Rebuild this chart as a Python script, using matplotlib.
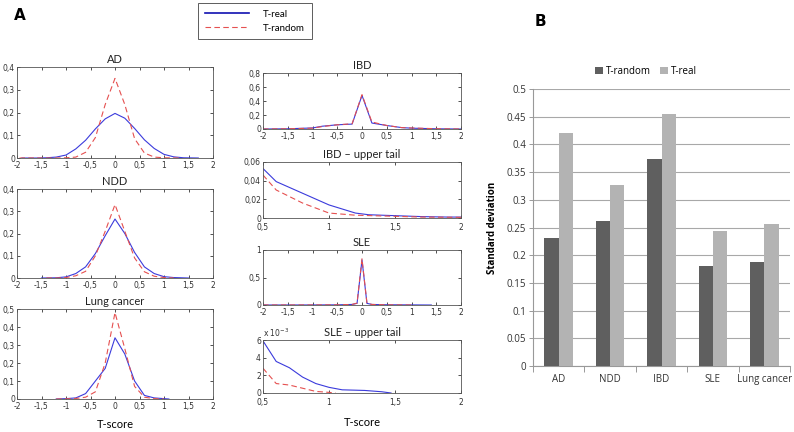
import matplotlib
matplotlib.use("Agg")
import matplotlib.pyplot as plt
from matplotlib.ticker import FuncFormatter, FixedLocator

# ---------------- data ----------------
ad_real_x = [-1.9, -1.6, -1.4, -1.2, -1.0, -0.8, -0.6, -0.4, -0.2, 0, 0.2, 0.4, 0.6, 0.8, 1.0, 1.2, 1.4, 1.7]
ad_real_y = [0, 0, 0.001, 0.004, 0.013, 0.04, 0.078, 0.128, 0.172, 0.196, 0.175, 0.13, 0.08, 0.042, 0.016, 0.005, 0.001, 0]
ad_rand_x = [-1.95, -1.6, -1.4, -1.2, -1.0, -0.8, -0.6, -0.4, -0.2, 0, 0.2, 0.4, 0.6, 0.8, 1.0, 1.3]
ad_rand_y = [0, 0, 0, 0, 0.001, 0.004, 0.025, 0.09, 0.235, 0.35, 0.235, 0.085, 0.022, 0.004, 0.001, 0]

ndd_real_x = [-1.5, -1.2, -1.0, -0.8, -0.6, -0.4, -0.2, 0, 0.2, 0.4, 0.6, 0.8, 1.0, 1.2, 1.5]
ndd_real_y = [0, 0.001, 0.005, 0.02, 0.05, 0.11, 0.19, 0.265, 0.2, 0.115, 0.05, 0.02, 0.006, 0.002, 0]
ndd_rand_x = [-1.4, -1.2, -1.0, -0.8, -0.6, -0.4, -0.2, 0, 0.2, 0.4, 0.6, 0.8, 1.0, 1.2]
ndd_rand_y = [0, 0, 0.002, 0.01, 0.03, 0.1, 0.21, 0.33, 0.21, 0.09, 0.028, 0.008, 0.002, 0]

lung_real_x = [-1.2, -1.0, -0.8, -0.6, -0.4, -0.2, 0, 0.2, 0.4, 0.6, 0.8, 1.0, 1.1]
lung_real_y = [0, 0.002, 0.006, 0.03, 0.1, 0.17, 0.34, 0.25, 0.1, 0.02, 0.006, 0.002, 0]
lung_rand_x = [-1.2, -1.0, -0.8, -0.6, -0.4, -0.2, 0, 0.2, 0.4, 0.6, 0.8, 1.0]
lung_rand_y = [0, 0.001, 0.003, 0.01, 0.04, 0.2, 0.48, 0.28, 0.07, 0.01, 0.002, 0]

ibd_real_x = [-2.0, -1.5, -1.0, -0.8, -0.5, -0.2, 0, 0.2, 0.5, 0.8, 1.0, 1.5, 2.0]
ibd_real_y = [0, 0.003, 0.015, 0.04, 0.06, 0.07, 0.48, 0.085, 0.05, 0.02, 0.012, 0.003, 0]
ibd_rand_x = [-2.0, -1.5, -1.0, -0.8, -0.5, -0.2, 0, 0.2, 0.5, 0.8, 1.0, 1.5, 2.0]
ibd_rand_y = [0, 0.003, 0.012, 0.035, 0.06, 0.075, 0.49, 0.1, 0.05, 0.02, 0.015, 0.004, 0]

ibdt_real_x = [0.5, 0.6, 0.8, 1.0, 1.2, 1.3, 1.5, 1.7, 1.9, 2.0]
ibdt_real_y = [0.053, 0.039, 0.0265, 0.014, 0.0053, 0.0035, 0.0025, 0.0015, 0.001, 0.001]
ibdt_rand_x = [0.5, 0.6, 0.8, 1.0, 1.2, 1.5, 1.7, 2.0]
ibdt_rand_y = [0.046, 0.030, 0.016, 0.0053, 0.003, 0.0018, 0.001, 0.0007]

sle_real_x = [-2.0, -1.0, -0.5, -0.2, -0.1, 0, 0.1, 0.2, 0.5, 1.0, 1.4]
sle_real_y = [0, 0.001, 0.003, 0.01, 0.03, 0.82, 0.03, 0.01, 0.004, 0.002, 0]
sle_rand_x = [-2.0, -1.0, -0.5, -0.2, -0.1, 0, 0.1, 0.2, 0.5, 1.0]
sle_rand_y = [0, 0.001, 0.003, 0.01, 0.035, 0.84, 0.035, 0.01, 0.003, 0]

slet_real_x = [0.5, 0.6, 0.7, 0.8, 0.9, 1.0, 1.1, 1.27, 1.4, 1.47]
slet_real_y = [5.9e-3, 3.57e-3, 2.86e-3, 1.8e-3, 1.07e-3, 0.64e-3, 0.36e-3, 0.29e-3, 0.14e-3, 0]
slet_rand_x = [0.5, 0.6, 0.7, 0.8, 0.9, 1.0, 1.05]
slet_rand_y = [2.8e-3, 1.07e-3, 0.9e-3, 0.54e-3, 0.18e-3, 0.07e-3, 0]

categories = ["AD", "NDD", "IBD", "SLE", "Lung cancer"]
sd_random = [0.231, 0.261, 0.374, 0.180, 0.188]
sd_real = [0.420, 0.327, 0.454, 0.243, 0.257]

# ---------------- figure ----------------
W, H = 794, 432
fig = plt.figure(figsize=(W / 100, H / 100), dpi=100)
fig.patch.set_facecolor("white")

def ax_px(l, t, r, b):
    return fig.add_axes([l / W, 1 - b / H, (r - l) / W, (b - t) / H])

BLUE = "#3b3bdc"
RED = "#e55050"
TITLE_FONT = "Lato"

def comma(v, pos=None):
    s = f"{v:g}"
    return s.replace(".", ",")

def matlab_ax(ax, xlim, ylim, xticks, yticks, title, yfmt=comma, xpad=2.5):
    ax.set_xlim(*xlim)
    ax.set_ylim(*ylim)
    ax.xaxis.set_major_locator(FixedLocator(xticks))
    ax.yaxis.set_major_locator(FixedLocator(yticks))
    ax.xaxis.set_major_formatter(FuncFormatter(comma))
    ax.yaxis.set_major_formatter(FuncFormatter(yfmt))
    ax.tick_params(direction="in", length=2.5, width=0.6, top=True, right=True,
                   labelsize=5.5, colors="#333333", labelcolor="#333333")
    ax.tick_params(axis="x", pad=xpad)
    ax.tick_params(axis="y", pad=1.5)
    for s in ax.spines.values():
        s.set_linewidth(0.6)
        s.set_color("#555555")
    ax.set_title(title, fontsize=8, family=TITLE_FONT, pad=3, color="#222222")

def draw(ax, xr, yr, xq, yq):
    l1, = ax.plot(xr, yr, color=BLUE, lw=0.8)
    l2, = ax.plot(xq, yq, color=RED, lw=0.8, ls=(0, (5, 3)))
    return l1, l2

full_x = [-2, -1.5, -1, -0.5, 0, 0.5, 1, 1.5, 2]
tail_x = [0.5, 1, 1.5, 2]

# left column
ax = ax_px(17, 67, 213, 158)
h_real, h_rand = draw(ax, ad_real_x, ad_real_y, ad_rand_x, ad_rand_y)
matlab_ax(ax, (-2, 2), (0, 0.4), full_x, [0, 0.1, 0.2, 0.3, 0.4], "AD")

ax = ax_px(17, 189, 213, 278)
draw(ax, ndd_real_x, ndd_real_y, ndd_rand_x, ndd_rand_y)
matlab_ax(ax, (-2, 2), (0, 0.4), full_x, [0, 0.1, 0.2, 0.3, 0.4], "NDD")

ax = ax_px(17, 309, 213, 399)
draw(ax, lung_real_x, lung_real_y, lung_rand_x, lung_rand_y)
matlab_ax(ax, (-2, 2), (0, 0.5), full_x, [0, 0.1, 0.2, 0.3, 0.4, 0.5], "Lung cancer")

# right column
ax = ax_px(263, 73, 461, 129)
draw(ax, ibd_real_x, ibd_real_y, ibd_rand_x, ibd_rand_y)
matlab_ax(ax, (-2, 2), (0, 0.8), full_x, [0, 0.2, 0.4, 0.6, 0.8], "IBD")

ax = ax_px(263, 162, 461, 218)
draw(ax, ibdt_real_x, ibdt_real_y, ibdt_rand_x, ibdt_rand_y)
matlab_ax(ax, (0.5, 2), (0, 0.06), tail_x, [0, 0.02, 0.04, 0.06], "IBD \u2013 upper tail", xpad=3.5)

ax = ax_px(263, 250, 461, 305)
draw(ax, sle_real_x, sle_real_y, sle_rand_x, sle_rand_y)
matlab_ax(ax, (-2, 2), (0, 1), full_x, [0, 0.5, 1], "SLE")

ax = ax_px(263, 340, 461, 393)
draw(ax, slet_real_x, slet_real_y, slet_rand_x, slet_rand_y)
matlab_ax(ax, (0.5, 2), (0, 0.006), tail_x, [0, 0.002, 0.004, 0.006], "SLE \u2013 upper tail",
          yfmt=lambda v, p=None: f"{v * 1000:g}", xpad=3.5)
ax.text(0.0, 1.02, r"x 10$^{-3}$", transform=ax.transAxes, fontsize=5.5, color="#333333",
        ha="left", va="bottom")

fig.text(115 / W, 1 - 424 / H, "T-score", fontsize=8, family=TITLE_FONT, ha="center", va="center")
fig.text(362 / W, 1 - 422 / H, "T-score", fontsize=8, family=TITLE_FONT, ha="center", va="center")
fig.text(20 / W, 1 - 15 / H, "A", fontsize=11, fontweight="bold", family="DejaVu Sans",
         ha="center", va="center")

leg = fig.legend([h_real, h_rand], ["T-real", "T-random"], loc="upper left",
                 bbox_to_anchor=(198 / W, 1 - 3 / H), frameon=True, fancybox=False,
                 prop={"family": TITLE_FONT, "size": 7}, handlelength=4.5, handletextpad=1.5,
                 borderpad=0.7, labelspacing=0.5, borderaxespad=0)
leg.get_frame().set_edgecolor("#333333")
leg.get_frame().set_linewidth(0.7)
leg.legend_handles[0].set_color("#1010b0")
leg.legend_handles[0].set_linewidth(1.2)

# ---------------- panel B ----------------
axb = ax_px(533, 89, 790, 366)
DARK = "#5f5f5f"
LIGHT = "#b3b3b3"
pos = list(range(len(categories)))
bw = 0.28
axb.bar([p - bw / 2 for p in pos], sd_random, width=bw, color=DARK, zorder=3, label="T-random")
axb.bar([p + bw / 2 for p in pos], sd_real, width=bw, color=LIGHT, zorder=3, label="T-real")
axb.set_xlim(-0.5, len(categories) - 0.5)
axb.set_ylim(0, 0.5)
axb.set_yticks([i * 0.05 for i in range(11)])
axb.yaxis.set_major_formatter(FuncFormatter(lambda v, p=None: f"{round(v, 2):g}"))
axb.set_xticks(pos)
axb.set_xticklabels(categories)
axb.set_xticks([p - 0.5 for p in pos] + [len(pos) - 0.5], minor=True)
axb.tick_params(axis="x", which="major", length=0, pad=6, labelsize=7, labelcolor="#333333")
axb.tick_params(axis="x", which="minor", length=4, width=0.7, color="#999999", direction="out")
axb.tick_params(axis="y", length=3, width=0.7, color="#999999", labelsize=7, labelcolor="#333333", pad=2)
for lab in axb.get_xticklabels() + axb.get_yticklabels():
    lab.set_family("Open Sans")
axb.grid(axis="y", color="#a8a8a8", lw=0.8, zorder=0)
axb.set_axisbelow(True)
for s in ["top", "right"]:
    axb.spines[s].set_visible(False)
for s in ["left", "bottom"]:
    axb.spines[s].set_color("#999999")
    axb.spines[s].set_linewidth(0.8)
axb.set_ylabel("Standard deviation", fontsize=7, fontweight="bold", family="Open Sans", labelpad=6)
axb.legend(loc="lower center", bbox_to_anchor=(0.44, 1.03), ncol=2, frameon=False,
           prop={"family": "Open Sans", "size": 7}, handlelength=0.8, handleheight=0.8,
           handletextpad=0.3, columnspacing=1.0, borderaxespad=0)
fig.text(540 / W, 1 - 22 / H, "B", fontsize=11, fontweight="bold", family="DejaVu Sans",
         ha="center", va="center")

fig.savefig("out.png", dpi=100, facecolor="white")
